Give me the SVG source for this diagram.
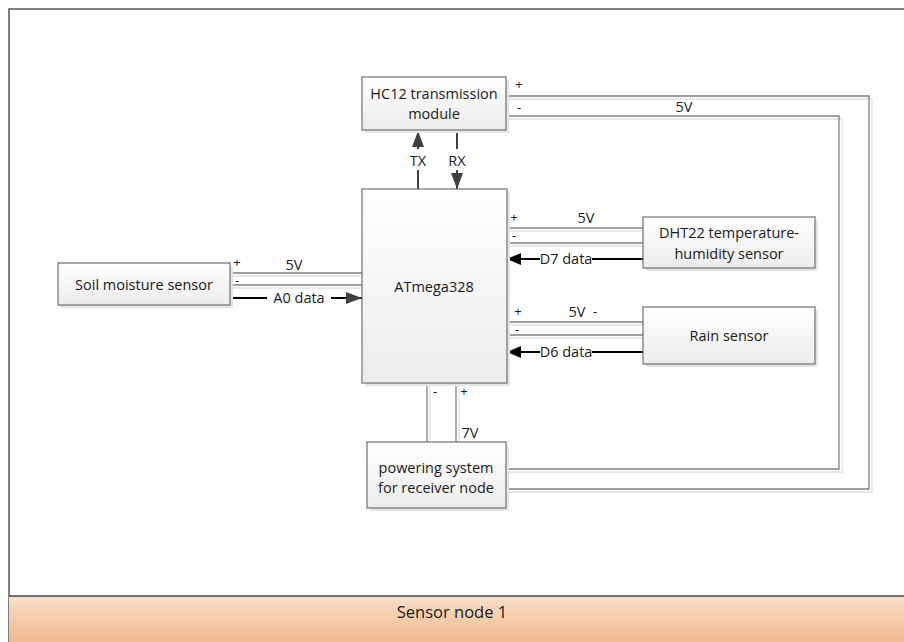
<svg xmlns="http://www.w3.org/2000/svg" width="904" height="642" viewBox="0 0 904 642">
<defs>
<linearGradient id="boxg" x1="0" y1="0" x2="0" y2="1">
<stop offset="0" stop-color="#ffffff"/>
<stop offset="1" stop-color="#ececec"/>
</linearGradient>
<linearGradient id="bandg" x1="0" y1="0" x2="0" y2="1">
<stop offset="0" stop-color="#f8e0cb"/>
<stop offset="1" stop-color="#f1b98c"/>
</linearGradient>
<marker id="ah" viewBox="0 0 16 12" refX="16" refY="6" markerWidth="16" markerHeight="12" markerUnits="userSpaceOnUse" orient="auto">
<path d="M0,0 L16,6 L0,12 Z" fill="#404040"/>
</marker>
<marker id="ahb" viewBox="0 0 14 12" refX="14" refY="6" markerWidth="14" markerHeight="12" markerUnits="userSpaceOnUse" orient="auto">
<path d="M0,0 L14,6 L0,12 Z" fill="#000000"/>
</marker>
</defs>
<style>
text{font-family:"Open Sans","Noto Sans","Liberation Sans",sans-serif;font-size:14.5px;fill:#1a1a1a}
.lbl{text-anchor:middle}
.pm{font-size:13px}
.box{fill:url(#boxg);stroke:#707070;stroke-width:1.2}
.bsh{fill:#e6e6e6}
.pw{fill:none;stroke:#808080;stroke-width:1.3}
.ps{fill:none;stroke:#e0e0e0;stroke-width:1.3}
.dt{fill:none;stroke:#000;stroke-width:2}
.tr{fill:none;stroke:#404040;stroke-width:2}
.bg{fill:#fff}
</style>
<rect x="0" y="0" width="904" height="642" fill="#ffffff"/>
<path d="M9,642 V9 H904" fill="none" stroke="#555" stroke-width="1.5"/>
<rect x="9" y="596" width="895" height="46" fill="url(#bandg)"/>
<line x1="9" y1="596" x2="904" y2="596" stroke="#444" stroke-width="1.5"/>
<text x="452" y="618" class="lbl" style="font-size:16.5px">Sensor node 1</text>

<g id="connectors">
<!-- shadows -->
<polyline class="ps" points="509,99 872,99 872,492 509,492"/>
<polyline class="ps" points="509,119 842,119 842,472 509,472"/>
<line class="ps" x1="510" y1="231" x2="643" y2="231"/>
<line class="ps" x1="510" y1="246" x2="643" y2="246"/>
<line class="ps" x1="510" y1="325" x2="643" y2="325"/>
<line class="ps" x1="510" y1="338" x2="643" y2="338"/>
<line class="ps" x1="230" y1="276" x2="362" y2="276"/>
<line class="ps" x1="230" y1="288" x2="362" y2="288"/>
<line class="ps" x1="430" y1="386" x2="430" y2="442"/>
<line class="ps" x1="459" y1="386" x2="459" y2="442"/>
<!-- power lines -->
<polyline class="pw" points="506,96 869,96 869,489 506,489"/>
<polyline class="pw" points="506,116 839,116 839,469 506,469"/>
<line class="pw" x1="507" y1="228" x2="643" y2="228"/>
<line class="pw" x1="507" y1="243" x2="643" y2="243"/>
<line class="pw" x1="507" y1="322" x2="643" y2="322"/>
<line class="pw" x1="507" y1="335" x2="643" y2="335"/>
<line class="pw" x1="230" y1="273" x2="362" y2="273"/>
<line class="pw" x1="230" y1="285" x2="362" y2="285"/>
<line class="pw" x1="427" y1="383" x2="427" y2="442"/>
<line class="pw" x1="456" y1="383" x2="456" y2="442"/>
<!-- data lines -->
<line class="dt" x1="230" y1="298" x2="362" y2="298" marker-end="url(#ah)"/>
<line class="dt" x1="643" y1="259" x2="507" y2="259" marker-end="url(#ahb)"/>
<line class="dt" x1="643" y1="352" x2="507" y2="352" marker-end="url(#ahb)"/>
<line class="tr" x1="418" y1="189" x2="418" y2="131" marker-end="url(#ah)"/>
<line class="tr" x1="457" y1="131" x2="457" y2="189" marker-end="url(#ah)"/>
<!-- label backgrounds -->
<rect class="bg" x="267" y="290" width="64" height="17"/>
<rect class="bg" x="540" y="251" width="52" height="17"/>
<rect class="bg" x="540" y="344" width="52" height="17"/>
<rect class="bg" x="405" y="149" width="26" height="21"/>
<rect class="bg" x="444" y="149" width="26" height="21"/>
<!-- labels -->
<text x="299" y="303" class="lbl">A0 data</text>
<text x="566" y="264" class="lbl">D7 data</text>
<text x="566" y="357" class="lbl">D6 data</text>
<text x="418" y="166" class="lbl">TX</text>
<text x="457" y="166" class="lbl">RX</text>
<text x="519" y="89" class="lbl pm">+</text>
<text x="519" y="112" class="lbl pm">-</text>
<text x="684" y="112" class="lbl">5V</text>
<text x="514" y="222" class="lbl pm">+</text>
<text x="586" y="223" class="lbl">5V</text>
<text x="514" y="240" class="lbl pm">-</text>
<text x="518" y="316" class="lbl pm">+</text>
<text x="577" y="317" class="lbl">5V</text>
<text x="595" y="316" class="lbl pm">-</text>
<text x="517" y="334" class="lbl pm">-</text>
<text x="237" y="267" class="lbl pm">+</text>
<text x="294" y="270" class="lbl">5V</text>
<text x="237" y="285" class="lbl pm">-</text>
<text x="435" y="396" class="lbl pm">-</text>
<text x="464" y="396" class="lbl pm">+</text>
<text x="470" y="438" class="lbl">7V</text>
</g>

<g id="hc12">
<rect class="bsh" x="365" y="80" width="144" height="53"/>
<rect class="box" x="362" y="77" width="144" height="53"/>
<text x="434" y="99" class="lbl">HC12 transmission</text>
<text x="434" y="119" class="lbl">module</text>
</g>
<g id="atmega">
<rect class="bsh" x="365" y="192" width="145" height="194"/>
<rect class="box" x="362" y="189" width="145" height="194"/>
<text x="434" y="292" class="lbl">ATmega328</text>
</g>
<g id="dht22">
<rect class="bsh" x="646" y="220" width="172" height="51"/>
<rect class="box" x="643" y="217" width="172" height="51"/>
<text x="729" y="238" class="lbl">DHT22 temperature-</text>
<text x="729" y="259" class="lbl">humidity sensor</text>
</g>
<g id="rain">
<rect class="bsh" x="646" y="310" width="172" height="57"/>
<rect class="box" x="643" y="307" width="172" height="57"/>
<text x="729" y="341" class="lbl">Rain sensor</text>
</g>
<g id="soil">
<rect class="bsh" x="61" y="266" width="172" height="42"/>
<rect class="box" x="58" y="263" width="172" height="42"/>
<text x="144" y="290" class="lbl">Soil moisture sensor</text>
</g>
<g id="power">
<rect class="bsh" x="370" y="445" width="139" height="66"/>
<rect class="box" x="367" y="442" width="139" height="66"/>
<text x="436" y="473" class="lbl">powering system</text>
<text x="436" y="493" class="lbl">for receiver node</text>
</g>
</svg>
